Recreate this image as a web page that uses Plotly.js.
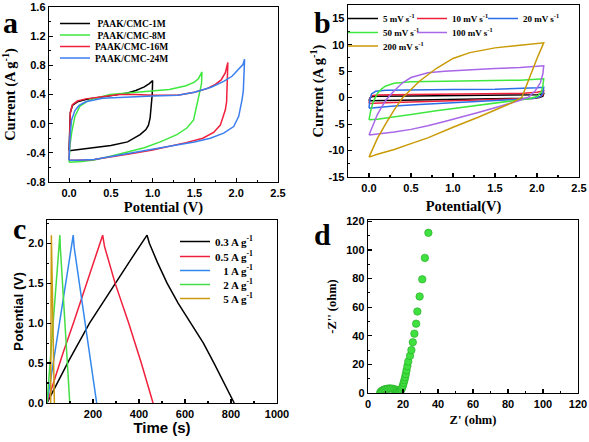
<!DOCTYPE html>
<html>
<head>
<meta charset="utf-8">
<script src="https://cdn.plot.ly/plotly-3.0.1.min.js"></script>
<style>html,body{margin:0;padding:0;background:#fff;} #chart{width:589px;height:442px;}</style>
</head>
<body>
<div id="chart"></div>
<script>
// ---------------- Panel a: CV curves of different electrolytes ----------------
const aNames = ['\u00a0PAAK/CMC-1M', '\u00a0PAAK/CMC-8M', 'PAAK/CMC-16M', 'PAAK/CMC-24M'];
const a1M_x = [0, 0.005, 0.015, 0.04, 0.1, 0.2, 0.3, 0.5, 0.7, 0.8, 0.9, 0.96, 1.0, 0.995, 0.985, 0.97, 0.95, 0.92, 0.85, 0.7, 0.5, 0.25, 0.1, 0];
const a1M_y = [-0.37, -0.05, 0.15, 0.25, 0.3, 0.33, 0.35, 0.38, 0.42, 0.455, 0.505, 0.55, 0.59, 0.4, 0.2, 0.08, -0.02, -0.08, -0.15, -0.25, -0.3, -0.34, -0.36, -0.37];
const a8M_x = [0, 0.01, 0.03, 0.07, 0.13, 0.25, 0.49, 0.77, 1.0, 1.2, 1.4, 1.5, 1.55, 1.59, 1.585, 1.56, 1.53, 1.49, 1.41, 1.29, 1.09, 0.9, 0.7, 0.5, 0.3, 0.15, 0];
const a8M_y = [-0.53, -0.3, -0.13, 0.1, 0.24, 0.33, 0.4, 0.43, 0.447, 0.47, 0.52, 0.57, 0.62, 0.71, 0.55, 0.42, 0.24, 0.05, -0.06, -0.15, -0.25, -0.33, -0.39, -0.45, -0.5, -0.52, -0.53];
const a16M_x = [0, 0.005, 0.015, 0.04, 0.1, 0.2, 0.4, 0.6, 0.8, 1.0, 1.3, 1.5, 1.65, 1.75, 1.82, 1.87, 1.9, 1.893, 1.885, 1.87, 1.81, 1.73, 1.6, 1.4, 1.2, 1.0, 0.7, 0.5, 0.3, 0.1, 0];
const a16M_y = [-0.5, -0.1, 0.15, 0.26, 0.31, 0.34, 0.37, 0.4, 0.4, 0.39, 0.39, 0.43, 0.48, 0.54, 0.6, 0.7, 0.84, 0.55, 0.3, 0.19, -0.02, -0.12, -0.2, -0.26, -0.31, -0.36, -0.42, -0.46, -0.49, -0.5, -0.5];
const a24M_x = [0, 0.01, 0.03, 0.07, 0.12, 0.2, 0.4, 0.7, 1.0, 1.3, 1.5, 1.7, 1.85, 1.95, 2.03, 2.08, 2.1, 2.095, 2.085, 2.07, 2.03, 1.97, 1.85, 1.69, 1.5, 1.2, 1.0, 0.7, 0.5, 0.3, 0.1, 0];
const a24M_y = [-0.5, -0.2, 0.05, 0.18, 0.25, 0.3, 0.35, 0.37, 0.38, 0.39, 0.43, 0.5, 0.58, 0.65, 0.74, 0.81, 0.885, 0.65, 0.45, 0.33, 0.1, -0.04, -0.13, -0.2, -0.25, -0.31, -0.35, -0.41, -0.46, -0.49, -0.5, -0.5];
const aColors = ['#000000', '#3ee83e', '#f0203c', '#3a7ef0'];
const aXticks = [0, 0.5, 1, 1.5, 2, 2.5];
const aXtext = ['0.0', '0.5', '1.0', '1.5', '2.0', '2.5'];
const aYticks = [-0.8, -0.4, 0, 0.4, 0.8, 1.2, 1.6];
const aYtext = ['-0.8', '-0.4', '0.0', '0.4', '0.8', '1.2', '1.6'];

// ---------------- Panel b: CV at different scan rates ----------------
const bNames = ['5 mV s<sup>-1</sup>', '10 mV s<sup>-1</sup>', '20 mV s<sup>-1</sup>', '50 mV s<sup>-1</sup>', '100 mV s<sup>-1</sup>', '200 mV s<sup>-1</sup>'];
const b5_x = [0, 0.01, 0.03, 0.1, 0.5, 1.0, 1.5, 1.8, 2.0, 2.08, 2.07, 2.03, 1.95, 1.5, 1.0, 0.5, 0.2, 0];
const b5_y = [-0.6, -0.1, 0.15, 0.25, 0.3, 0.35, 0.4, 0.45, 0.55, 0.75, 0.25, 0.0, -0.1, -0.2, -0.3, -0.45, -0.52, -0.6];
const b10_x = [0, 0.01, 0.03, 0.1, 0.5, 1.0, 1.5, 1.8, 2.0, 2.08, 2.07, 2.03, 1.95, 1.5, 1.0, 0.5, 0.2, 0];
const b10_y = [-1.1, -0.2, 0.35, 0.5, 0.6, 0.65, 0.72, 0.8, 1.0, 1.3, 0.5, 0.1, -0.15, -0.35, -0.5, -0.75, -0.95, -1.1];
const b20_x = [0, 0.01, 0.03, 0.08, 0.2, 0.5, 1.0, 1.5, 1.8, 2.0, 2.08, 2.07, 2.04, 1.95, 1.7, 1.3, 1.0, 0.6, 0.3, 0.1, 0];
const b20_y = [-2.0, -0.5, 0.7, 1.2, 1.4, 1.5, 1.55, 1.6, 1.7, 1.85, 1.95, 0.8, 0.2, -0.15, -0.4, -0.7, -0.95, -1.3, -1.6, -1.85, -2.0];
const b50_x = [0, 0.02, 0.05, 0.1, 0.15, 0.2, 0.3, 0.5, 0.9, 1.5, 1.8, 2.08, 2.07, 2.05, 2.0, 1.9, 1.7, 1.5, 1.1, 0.8, 0.5, 0.3, 0.1, 0];
const b50_y = [-4.2, -2.5, -0.8, 0.8, 1.65, 2.2, 2.7, 3.0, 3.1, 3.2, 3.3, 3.55, 2.2, 1.0, 0.2, -0.2, -0.6, -1.0, -1.8, -2.5, -3.2, -3.7, -4.1, -4.2];
const b100_x = [0, 0.05, 0.1, 0.15, 0.2, 0.3, 0.4, 0.5, 0.7, 0.9, 1.2, 1.5, 1.8, 2.08, 2.07, 2.04, 1.98, 1.9, 1.8, 1.7, 1.5, 1.3, 1.1, 0.9, 0.7, 0.5, 0.3, 0.1, 0];
const b100_y = [-7.05, -5.0, -3.2, -1.8, -0.5, 1.3, 2.8, 3.8, 4.7, 5.0, 5.3, 5.5, 5.7, 6.0, 4.5, 2.8, 1.3, 0.1, -0.5, -1.0, -1.9, -2.8, -3.7, -4.5, -5.3, -6.0, -6.5, -6.9, -7.05];
const b200_x = [0, 0.05, 0.1, 0.2, 0.3, 0.4, 0.6, 0.8, 1.0, 1.2, 1.5, 1.8, 2.08, 2.0, 1.9, 1.82, 1.7, 1.5, 1.3, 1.0, 0.7, 0.5, 0.3, 0.1, 0];
const b200_y = [-11.25, -9.4, -7.7, -4.9, -2.3, 0.0, 3.1, 5.5, 7.4, 8.5, 9.4, 9.9, 10.36, 7.4, 3.2, 0.06, -1.0, -2.4, -3.7, -5.6, -7.6, -8.7, -9.8, -10.7, -11.25];
const bColors = ['#000000', '#f0203c', '#2a6ee8', '#3ee83e', '#a866e8', '#c99a06'];
const bYticks = [-15, -10, -5, 0, 5, 10, 15];
const bYtext = ['-15', '-10', '-5', '0', '5', '10', '15'];

// ---------------- Panel c: GCD curves ----------------
const cNames = ['0.3 A g<sup>-1</sup>', '0.5 A g<sup>-1</sup>', '\u00a0\u00a0\u00a01 A g<sup>-1</sup>', '\u00a0\u00a0\u00a02 A g<sup>-1</sup>', '\u00a0\u00a0\u00a05 A g<sup>-1</sup>'];
const c03_t = [0, 45, 95, 185, 300, 370, 435, 445, 480, 522, 570, 624, 680, 726, 770, 814];
const c03_v = [0, 0.26, 0.53, 1.0, 1.52, 1.82, 2.1, 2.0, 1.76, 1.5, 1.25, 1.0, 0.75, 0.5, 0.25, 0];
const c05_t = [0, 30, 70, 115, 160, 200, 242, 250, 296, 355, 410, 461];
const c05_v = [0, 0.28, 0.63, 1.0, 1.4, 1.75, 2.1, 1.96, 1.5, 1.0, 0.5, 0];
const c1_t = [0, 50, 114, 118, 140, 165, 190, 216];
const c1_v = [0, 0.93, 2.1, 1.95, 1.5, 1.0, 0.5, 0];
const c2_t = [0, 56, 58, 77, 99];
const c2_v = [0, 2.1, 1.95, 1.0, 0];
const c5_t = [16, 19, 32];
const c5_v = [0, 2.1, 0];
const cColors = ['#000000', '#f0203c', '#3388ee', '#44dd44', '#cc9a10'];
const cYticks = [0, 0.5, 1.0, 1.5, 2.0];
const cYtext = ['0.0', '0.5', '1.0', '1.5', '2.0'];
const cXticks = [200, 400, 600, 800, 1000];

// ---------------- Panel d: Nyquist plot ----------------
const dZre = [7, 7.5, 8, 8.7, 9.5, 10.3, 11.2, 12.1, 13, 14, 15, 15.8, 16.5, 17, 17.6, 18.2, 18.7, 19.2, 19.6, 20, 20.4, 20.8, 21.2, 21.6, 22, 22.5, 23, 24, 24.8, 25.6, 26.5, 27.5, 28.2, 29.5, 31, 32.5, 34.5];
const dZim = [0.3, 1.0, 1.6, 2.1, 2.5, 2.8, 3.0, 3.1, 3.1, 3.0, 2.7, 2.3, 1.7, 1.1, 0.7, 1.0, 1.7, 2.8, 4.0, 5.5, 7.2, 9.0, 11, 13.2, 15.8, 18.8, 22, 26, 30, 35.5, 41.5, 48.5, 57, 67.5, 79.5, 94.5, 112];

// ---------------- Build ----------------
const W = 589, H = 442;
const SERIF = 'Liberation Serif, Times New Roman, serif';
const SANS = 'Liberation Sans, Arial, sans-serif';
const px = v => v / W;
const py = v => 1 - v / H;

function axisBase(extra) {
  return Object.assign({
    showline: true, linewidth: 1.3, linecolor: '#000', mirror: true,
    ticks: 'inside', ticklen: 4, tickwidth: 1.1, tickcolor: '#000',
    showgrid: false, zeroline: false, automargin: false, fixedrange: true,
    tickfont: {family: SANS, size: 11, weight: 'bold', color: '#000'}
  }, extra);
}

const traces = [];
const legends = {};
let legendCount = 0;
function addLegend(x, y, size) {
  legendCount++;
  const key = legendCount === 1 ? 'legend' : 'legend' + legendCount;
  legends[key] = {
    x: px(x), y: py(y), xanchor: 'left', yanchor: 'middle',
    bgcolor: 'rgba(0,0,0,0)', borderwidth: 0, itemwidth: 30,
    font: {family: SERIF, size: size, weight: 'bold', color: '#000'}
  };
  return key;
}

// Panel a
const aX = [a1M_x, a8M_x, a16M_x, a24M_x];
const aY = [a1M_y, a8M_y, a16M_y, a24M_y];
const aRows = [23.5, 35, 46.5, 58];
for (let i = 0; i < 4; i++) {
  traces.push({x: aX[i], y: aY[i], xaxis: 'x', yaxis: 'y', mode: 'lines', name: aNames[i],
    line: {color: aColors[i], width: 1.5}, legend: addLegend(55, aRows[i], 9.5)});
}
// Panel b
const bX = [b5_x, b10_x, b20_x, b50_x, b100_x, b200_x];
const bY = [b5_y, b10_y, b20_y, b50_y, b100_y, b200_y];
const bPos = [[343, 18.5], [412, 18.5], [483, 18.5], [343, 32.5], [412, 32.5], [343, 46]];
for (let i = 0; i < 6; i++) {
  traces.push({x: bX[i], y: bY[i], xaxis: 'x2', yaxis: 'y2', mode: 'lines', name: bNames[i],
    line: {color: bColors[i], width: 1.5}, legend: addLegend(bPos[i][0], bPos[i][1], 9)});
}
// Panel c
const cT = [c03_t, c05_t, c1_t, c2_t, c5_t];
const cV = [c03_v, c05_v, c1_v, c2_v, c5_v];
const cRows = [241.5, 256.5, 270.5, 284.5, 298.5];
for (let i = 0; i < 5; i++) {
  traces.push({x: cT[i], y: cV[i], xaxis: 'x3', yaxis: 'y3', mode: 'lines', name: cNames[i],
    line: {color: cColors[i], width: 1.5}, legend: addLegend(175, cRows[i], 11)});
}
// Panel d
traces.push({x: dZre, y: dZim, xaxis: 'x4', yaxis: 'y4', mode: 'markers', showlegend: false,
  marker: {color: '#3fe03f', size: 7.5, line: {color: '#23a823', width: 0.6}}});

function letter(t, x, y) {
  return {text: t, x: px(x), y: py(y), xref: 'paper', yref: 'paper', xanchor: 'center', yanchor: 'middle',
    showarrow: false, font: {family: SERIF, size: 30, weight: 'bold', color: '#000'}};
}

const layout = Object.assign({
  width: W, height: H, margin: {l: 0, r: 0, t: 0, b: 0},
  paper_bgcolor: '#fff', plot_bgcolor: '#fff',
  showlegend: true,
  xaxis: axisBase({domain: [px(49), px(278)], range: [-0.24, 2.5], anchor: 'y',
    tickmode: 'array', tickvals: aXticks, ticktext: aXtext,
    minor: {tickmode: 'linear', tick0: 0, dtick: 0.25, ticks: 'inside', ticklen: 2, tickcolor: '#000'},
    title: {text: 'Potential (V)', standoff: 3, font: {family: SERIF, size: 14.5, weight: 'bold', color: '#000'}}}),
  yaxis: axisBase({domain: [py(182), py(7)], range: [-0.8, 1.6], anchor: 'x',
    tickmode: 'array', tickvals: aYticks, ticktext: aYtext,
    minor: {tickmode: 'linear', tick0: 0, dtick: 0.2, ticks: 'inside', ticklen: 2, tickcolor: '#000'},
    title: {text: 'Current (A g<sup>-1</sup>)', standoff: 8, font: {family: SERIF, size: 14.5, weight: 'bold', color: '#000'}}}),
  xaxis2: axisBase({domain: [px(348), px(579)], range: [-0.25, 2.5], anchor: 'y2',
    tickmode: 'array', tickvals: aXticks, ticktext: aXtext,
    minor: {tickmode: 'linear', tick0: 0, dtick: 0.25, ticks: 'inside', ticklen: 2, tickcolor: '#000'},
    title: {text: 'Potential(V)', standoff: 8, font: {family: SERIF, size: 14.5, weight: 'bold', color: '#000'}}}),
  yaxis2: axisBase({domain: [py(177), py(5)], range: [-15, 17.5], anchor: 'x2',
    tickmode: 'array', tickvals: bYticks, ticktext: bYtext,
    minor: {tickmode: 'linear', tick0: 0, dtick: 2.5, ticks: 'inside', ticklen: 2, tickcolor: '#000'},
    title: {text: 'Current (A g<sup>-1</sup>)', standoff: 1, font: {family: SERIF, size: 14.5, weight: 'bold', color: '#000'}}}),
  xaxis3: axisBase({domain: [px(47), px(277)], range: [0, 1000], anchor: 'y3',
    tickmode: 'array', tickvals: cXticks, ticktext: cXticks.map(String),
    minor: {tickmode: 'linear', tick0: 0, dtick: 100, ticks: 'inside', ticklen: 2, tickcolor: '#000'},
    title: {text: 'Time (s)', standoff: 4, font: {family: SANS, size: 15, weight: 'bold', color: '#000'}}}),
  yaxis3: axisBase({domain: [py(403), py(220)], range: [0, 2.29], anchor: 'x3',
    tickmode: 'array', tickvals: cYticks, ticktext: cYtext,
    minor: {tickmode: 'linear', tick0: 0, dtick: 0.25, ticks: 'inside', ticklen: 2, tickcolor: '#000'},
    title: {text: 'Potential (V)', standoff: 1, font: {family: SANS, size: 13.5, weight: 'bold', color: '#000'}}}),
  xaxis4: axisBase({domain: [px(368), px(578)], range: [0, 120], anchor: 'y4',
    tickmode: 'linear', tick0: 0, dtick: 20,
    minor: {tickmode: 'linear', tick0: 0, dtick: 10, ticks: 'inside', ticklen: 2, tickcolor: '#000'},
    title: {text: "Z' (ohm)", standoff: 6, font: {family: SERIF, size: 12.5, weight: 'bold', color: '#000'}}}),
  yaxis4: axisBase({domain: [py(393), py(220)], range: [0, 121], anchor: 'x4',
    tickmode: 'linear', tick0: 0, dtick: 20,
    minor: {tickmode: 'linear', tick0: 0, dtick: 10, ticks: 'inside', ticklen: 2, tickcolor: '#000'},
    title: {text: "-Z'' (ohm)", standoff: 6, font: {family: SERIF, size: 12.5, weight: 'bold', color: '#000'}}}),
  annotations: [letter('a', 10, 22), letter('b', 322, 22), letter('c', 19, 228), letter('d', 322, 234)]
}, legends);

Plotly.newPlot('chart', traces, layout, {staticPlot: true, displayModeBar: false});
</script>
</body>
</html>
